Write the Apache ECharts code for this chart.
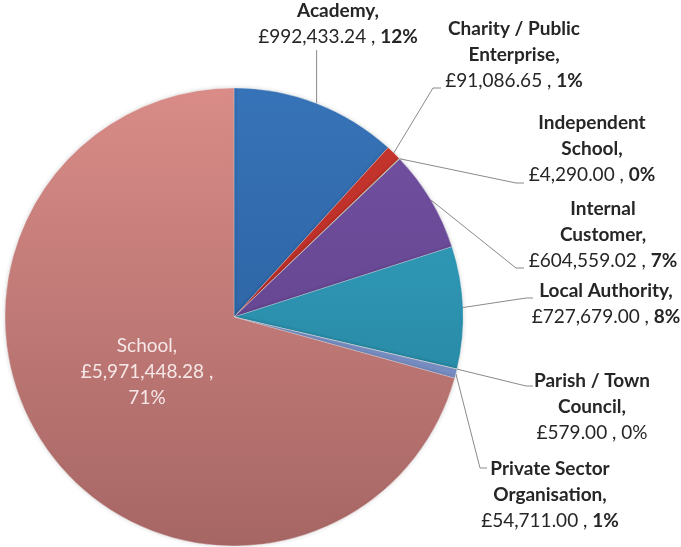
<!DOCTYPE html>
<html>
<head>
<meta charset="utf-8">
<script src="https://cdn.jsdelivr.net/npm/echarts@6/dist/echarts.min.js"></script>
<style>
  html, body { margin: 0; padding: 0; background: #fff; }
  #main { width: 681px; height: 547px; }
</style>
</head>
<body>
<div id="main"></div>
<script>
// data
var categories = ['Academy', 'Charity / Public\nEnterprise', 'Independent\nSchool', 'Internal\nCustomer',
  'Local Authority', 'Parish / Town\nCouncil', 'Private Sector\nOrganisation', 'School']
var values = [992433.24, 91086.65, 4290.00, 604559.02, 727679.00, 579.00, 54711.00, 5971448.28]
var pctLabels = ['12%', '1%', '0%', '7%', '8%', '0%', '1%', '71%']
var nameBold = [true, true, true, true, true, true, true, false]
var pctBold = [true, true, true, true, true, false, true, false]

// colours (top, bottom of the vertical shading)
var colors = [
  ['#3773b8', '#275b97'],
  ['#c8362e', '#a82823'],
  ['#9bbb59', '#7f9c45'],
  ['#7352a3', '#5b3d83'],
  ['#35a6c6', '#227b94'],
  ['#f79646', '#d87a30'],
  ['#8298cb', '#6f86bb'],
  ['#d98c88', '#a66664']
]

// label boxes: centre x, top y, leader line bend / end
var labelPos = [
  { x: 338, y: -2, line: [[null, 50]] },
  { x: 514, y: 16, line: [[433, 88], [441, 88]] },
  { x: 592, y: 110, line: [[516, 183], [524, 183]] },
  { x: 603, y: 196, line: [[516, 268], [524, 268]] },
  { x: 606, y: 278, line: [[526, 298], [533, 298]] },
  { x: 592, y: 368, line: [[526, 386], [533, 386]] },
  { x: 550, y: 456, line: [[480, 468], [487, 468]] },
  { x: 147, y: 333, line: null }
]

function money (v) {
  var parts = v.toFixed(2).split('.')
  return '£' + parts[0].replace(/\B(?=(\d{3})+(?!\d))/g, ',') + '.' + parts[1]
}

var chart = echarts.init(document.getElementById('main'))

var seriesData = values.map(function (v, i) {
  var item = {
    name: categories[i],
    value: v,
    itemStyle: {
      color: new echarts.graphic.LinearGradient(0, 87, 0, 547, [
        { offset: 0, color: colors[i][0] },
        { offset: 1, color: colors[i][1] }
      ], true)
    }
  }
  if (i === 7) {
    item.label = { position: 'inside', color: '#f6e8e7' }
    item.labelLine = { show: false }
  }
  return item
})

chart.setOption({
  animation: false,
  series: [{
    type: 'pie',
    center: [234, 317],
    radius: 229,
    startAngle: 90,
    clockwise: true,
    avoidLabelOverlap: false,
    data: seriesData,
    itemStyle: {
      borderColor: 'rgba(255,255,255,0.45)',
      borderWidth: 0.6,
      shadowColor: 'rgba(0,0,0,0.18)',
      shadowBlur: 4
    },
    label: {
      show: true,
      position: 'outside',
      color: '#262626',
      fontFamily: 'Lato',
      fontSize: 19,
      lineHeight: 26,
      align: 'center',
      formatter: function (p) {
        var i = p.dataIndex
        var nk = nameBold[i] ? 'b' : 'n'
        var pk = pctBold[i] ? 'b' : 'n'
        var lines = categories[i].split('\n')
        var out = lines.map(function (l, k) {
          return '{' + nk + '|' + l + (k === lines.length - 1 ? ',' : '') + '}'
        })
        if (i === 7) {
          out.push('{n|' + money(values[i]) + ' ,}')
          out.push('{' + pk + '|' + pctLabels[i] + '}')
        } else {
          out.push('{n|' + money(values[i]) + ' , }{' + pk + '|' + pctLabels[i] + '}')
        }
        return out.join('\n')
      },
      rich: {
        b: { fontFamily: 'Lato', fontSize: 19, fontWeight: 'bold', lineHeight: 26 },
        n: { fontFamily: 'Lato', fontSize: 19, fontWeight: 'normal', lineHeight: 26 }
      }
    },
    labelLine: {
      show: true,
      lineStyle: { color: '#8a8a8a', width: 1 }
    },
    labelLayout: function (params) {
      var pos = labelPos[params.dataIndex]
      var res = { x: pos.x, y: pos.y, align: 'center', verticalAlign: 'top' }
      if (pos.line && params.labelLinePoints) {
        var start = params.labelLinePoints[0]
        var pts = [start]
        pos.line.forEach(function (pt) {
          pts.push([pt[0] === null ? start[0] : pt[0], pt[1]])
        })
        res.labelLinePoints = pts
      }
      return res
    }
  }]
})
</script>
</body>
</html>
